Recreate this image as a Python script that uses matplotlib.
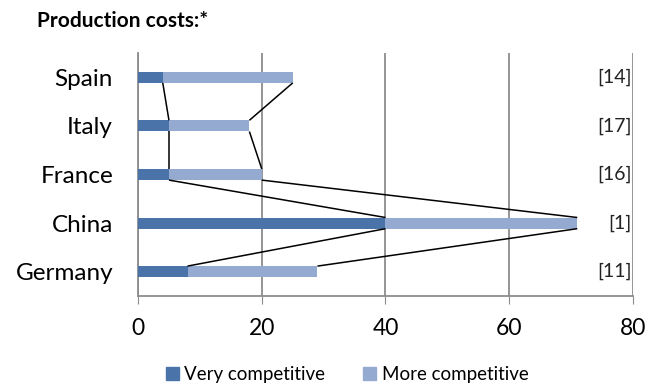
import matplotlib.pyplot as plt
from matplotlib.patches import Patch

plt.rcParams['font.family'] = ['Lato', 'DejaVu Sans']

# Data (bottom to top)
countries = ['Germany', 'China', 'France', 'Italy', 'Spain']
very_comp = [8, 40, 5, 5, 4]
more_comp = [21, 31, 15, 13, 21]
ranks = ['[11]', '[1]', '[16]', '[17]', '[14]']

dark = '#4A74A9'
light = '#95AAD1'
grid_col = '#8C8C8C'

fig = plt.figure(figsize=(6.61, 3.85), dpi=100)
ax = fig.add_axes([0.2088, 0.2312, 0.7488, 0.6311])

y = list(range(len(countries)))
h = 0.23
ax.barh(y, very_comp, height=h, color=dark, zorder=3)
ax.barh(y, more_comp, left=very_comp, height=h, color=light, zorder=3)

# series lines between neighbouring bars
totals = [a + b for a, b in zip(very_comp, more_comp)]
for ends in (very_comp, totals):
    for i in range(len(y) - 1):
        ax.plot([ends[i], ends[i + 1]], [y[i] + h / 2, y[i + 1] - h / 2],
                color='black', lw=1.1, zorder=4, solid_capstyle='butt')

for yi, r in zip(y, ranks):
    ax.text(79.8, yi, r, ha='right', va='center', fontsize=14, color='#222222')

ax.set_xlim(0, 80)
ax.set_ylim(-0.5, 4.5)
ax.set_xticks([0, 20, 40, 60, 80])
ax.set_yticks(y)
ax.set_yticklabels(countries)
ax.tick_params(axis='x', labelsize=16.5, length=6, color=grid_col, pad=10)
ax.tick_params(axis='y', labelsize=17.5, length=0, pad=18)
ax.xaxis.grid(True, color=grid_col, lw=1.3, zorder=0)
for s in ['top', 'right']:
    ax.spines[s].set_visible(False)
for s in ['left', 'bottom']:
    ax.spines[s].set_color(grid_col)
    ax.spines[s].set_linewidth(1.3)

fig.text(0.056, 0.945, 'Production costs:*', fontsize=15, fontweight='bold',
         ha='left', va='center')

handles = [Patch(color=dark, label='Very competitive'),
           Patch(color=light, label='More competitive')]
fig.legend(handles=handles, loc='center', bbox_to_anchor=(0.525, 0.028), ncol=2,
           frameon=False, fontsize=13.5, handlelength=0.7, handleheight=0.7,
           handletextpad=0.3, columnspacing=2.0)

fig.savefig('out.png', dpi=100)
